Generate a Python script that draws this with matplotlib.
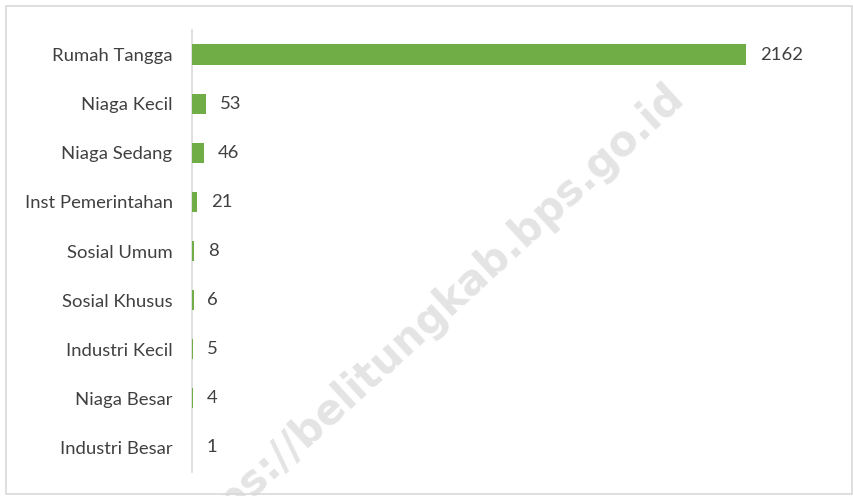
import matplotlib.pyplot as plt
from matplotlib.patches import Rectangle

kategori = ['Rumah Tangga', 'Niaga Kecil', 'Niaga Sedang', 'Inst Pemerintahan',
            'Sosial Umum', 'Sosial Khusus', 'Industri Kecil', 'Niaga Besar',
            'Industri Besar']
jumlah = [2162, 53, 46, 21, 8, 6, 5, 4, 1]

plt.rcParams['font.family'] = ['Lato', 'DejaVu Sans']

W, H = 854, 496
fig = plt.figure(figsize=(W / 100, H / 100), dpi=100)
fig.patch.set_facecolor('white')

# watermark (di belakang grafik)
fig.text(425 / W, 1 - 322 / H, 'https://belitungkab.bps.go.id', rotation=42.5,
         rotation_mode='anchor', ha='center', va='center', fontsize=30,
         fontweight='bold', family='DejaVu Sans', color='#e4e4e4', zorder=0)

# bingkai tipis abu-abu
fig.add_artist(Rectangle((6 / W, 2 / H), (W - 8) / W, (H - 8) / H,
                         transform=fig.transFigure, fill=False,
                         edgecolor='#d9d9d9', linewidth=1.2))

left, right = 192, 820
top, bottom = 30, 472
ax = fig.add_axes([left / W, 1 - bottom / H, (right - left) / W, (bottom - top) / H])
ax.patch.set_visible(False)

y = list(range(len(kategori)))
ax.barh(y, jumlah, height=0.41, color='#70ad47', zorder=2)
ax.set_ylim(len(kategori) - 0.5, -0.5)
ax.set_xlim(0, 2162 * (right - left) / (746 - left))

ax.set_yticks(y)
ax.set_yticklabels(kategori, fontsize=13.3, color='#404040')
ax.tick_params(axis='y', length=0, pad=14)
ax.set_xticks([])

for s in ['top', 'right', 'bottom']:
    ax.spines[s].set_visible(False)
ax.spines['left'].set_color('#d9d9d9')
ax.spines['left'].set_linewidth(1.2)
ax.spines['left'].set_zorder(1)

for i, v in enumerate(jumlah):
    ax.annotate(str(v), (v, i), xytext=(10, 0), textcoords='offset points',
                va='center', ha='left', fontsize=13.3, color='#404040')

fig.savefig('out.png', dpi=100)
